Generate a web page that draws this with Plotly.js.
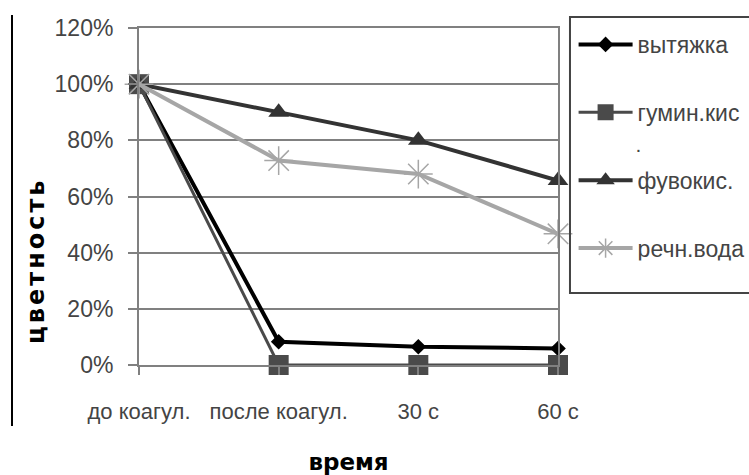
<!DOCTYPE html>
<html>
<head>
<meta charset="utf-8">
<script src="https://cdn.plot.ly/plotly-3.0.1.min.js"></script>
<style>
html,body{margin:0;padding:0;background:#fff;}
#chart{width:749px;height:475px;}
#chart .annotation-text{letter-spacing:3px;}
</style>
</head>
<body>
<div id="chart"></div>
<script>
// categories (x axis)
const categories = ["до коагул.", "после коагул.", "30 с", "60 с"];
// series values (fraction of initial colour)
const vytyazhka = [1.00, 0.083, 0.065, 0.059];
const guminKis = [1.00, 0.0, 0.0, 0.0];
const fuvoKis = [1.00, 0.90, 0.80, 0.657];
const rechVoda = [1.00, 0.728, 0.68, 0.467];
// series names
const seriesNames = ["вытяжка", "гумин.кис", "фувокис.", "речн.вода"];
// y tick values
const yTicks = [0, 0.2, 0.4, 0.6, 0.8, 1.0, 1.2];

const FONT = "Liberation Sans, Arial, sans-serif";

const traces = [
  {x: categories, y: vytyazhka, name: seriesNames[0], legendgroup: "a", mode: "lines+markers",
   line: {color: "#000000", width: 4}, marker: {symbol: "diamond", size: 12, color: "#000000"}, cliponaxis: false},
  {x: categories, y: guminKis, name: seriesNames[1], legendgroup: "b", mode: "lines+markers",
   line: {color: "#4a4a4a", width: 3}, marker: {symbol: "square", size: 20, color: "#4a4a4a"}, cliponaxis: false},
  {x: categories, y: fuvoKis, name: seriesNames[2], legendgroup: "c", mode: "lines+markers",
   line: {color: "#333333", width: 4}, marker: {symbol: "triangle-up", size: 18, color: "#333333"}, cliponaxis: false},
  {x: categories, y: rechVoda, name: seriesNames[3], legendgroup: "d", mode: "lines+markers",
   line: {color: "#a6a6a6", width: 4}, marker: {symbol: "asterisk-open", size: 24, color: "#a6a6a6", line: {color: "#a6a6a6", width: 1.5}}, cliponaxis: false}
];

const layout = {
  width: 749, height: 475,
  margin: {l: 139, r: 191, t: 28, b: 110, autoexpand: false},
  paper_bgcolor: "#ffffff", plot_bgcolor: "#ffffff",
  font: {family: FONT, size: 22, color: "#444444"},
  showlegend: true,
  legend: {
    x: 1.0372, xanchor: "left", y: 1.015, yanchor: "top",
    bgcolor: "rgba(0,0,0,0)", borderwidth: 0,
    font: {family: FONT, size: 23, color: "#444444"},
    tracegroupgap: 35, itemwidth: 54
  },
  xaxis: {
    type: "category", range: [0, 3],
    showgrid: false, showline: true, linecolor: "#808080", linewidth: 2, mirror: true,
    ticks: "outside", ticklen: 8, tickwidth: 2, tickcolor: "#808080",
    ticklabelstandoff: 18,
    tickfont: {family: FONT, size: 22, color: "#444444"},
    title: {text: "время", font: {family: "DejaVu Sans, sans-serif", size: 23, color: "#000000", weight: "bold"}, standoff: 52},
    zeroline: false, fixedrange: true, automargin: false
  },
  yaxis: {
    range: [0, 1.2], tickvals: yTicks, tickformat: ".0%",
    showgrid: true, gridcolor: "#808080", gridwidth: 2,
    showline: true, linecolor: "#808080", linewidth: 2, mirror: true,
    ticks: "outside", ticklen: 9, tickwidth: 2, tickcolor: "#808080",
    ticklabelstandoff: 10,
    tickfont: {family: FONT, size: 23, color: "#444444"},
    zeroline: false, fixedrange: true, automargin: false
  },
  annotations: [
    {text: "цветность", xref: "paper", yref: "paper", x: -0.245, y: 0.311, xanchor: "center", yanchor: "middle", textangle: -90,
     showarrow: false, font: {family: "DejaVu Sans, sans-serif", size: 24, color: "#000000", weight: "bold"}},
    {text: ".", xref: "paper", yref: "paper", x: 1.2076, y: 0.653, showarrow: false,
     font: {family: FONT, size: 21, color: "#444444"}}
  ],
  shapes: [
    {type: "line", xref: "paper", yref: "paper", x0: -0.3031, x1: -0.3031, y0: 1.0386, y1: -0.181,
     line: {color: "#000000", width: 2}},
    {type: "rect", xref: "paper", yref: "paper", x0: 1.0286, x1: 1.5, y0: 0.2136, y1: 1.0326,
     line: {color: "#444444", width: 2}, fillcolor: "rgba(0,0,0,0)"}
  ]
};

Plotly.newPlot("chart", traces, layout, {staticPlot: true, displayModeBar: false});
</script>
</body>
</html>
